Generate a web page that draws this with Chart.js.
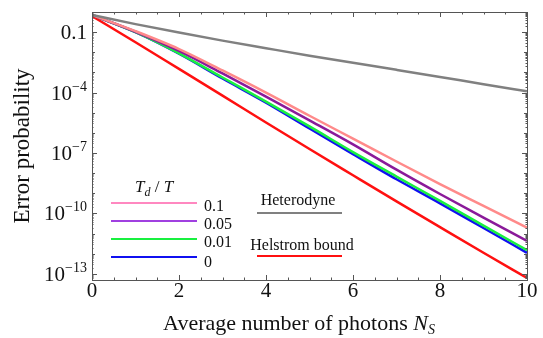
<!DOCTYPE html>
<html>
<head>
<meta charset="utf-8">
<script src="https://cdn.jsdelivr.net/npm/chart.js@4.4.0/dist/chart.umd.min.js"></script>
<style>
  html, body { margin: 0; padding: 0; background: #fff; }
  #wrap { width: 543px; height: 338px; }
</style>
</head>
<body>
<div id="wrap"><canvas id="myChart" width="543" height="338"></canvas></div>
<script>
// average photon number N_S
const photons = [0, 1, 2, 3, 4, 5, 6, 7, 8, 9, 10];
// error probability
const heterodyne = [0.71, 0.25, 0.095, 0.038, 0.016, 6.8e-3, 3.0e-3, 1.35e-3, 6.0e-4, 2.6e-4, 1.17e-4];
const td01  = [0.71, 0.112, 0.0145, 1.26e-3, 1.0e-4, 7.1e-6, 5.2e-7, 3.8e-8, 2.9e-9, 2.4e-10, 2.0e-11];
const td005 = [0.71, 0.105, 0.0117, 8.9e-4, 6.3e-5, 4.2e-6, 2.7e-7, 1.5e-8, 9.3e-10, 6.3e-11, 4.4e-12];
const td001 = [0.71, 0.1, 8.9e-3, 5.6e-4, 3.6e-5, 2.1e-6, 1.12e-7, 6.8e-9, 4.2e-10, 2.5e-11, 1.5e-12];
const td0   = [0.71, 0.1, 8.5e-3, 5.0e-4, 3.2e-5, 1.66e-6, 8.9e-8, 5.0e-9, 3.2e-10, 1.9e-11, 1.12e-12];
const helstrom = [0.63, 0.0316, 1.5e-3, 7.1e-5, 3.3e-6, 1.58e-7, 7.9e-9, 4.0e-10, 2.1e-11, 1.12e-12, 6.3e-14];

const xTicks = [0, 2, 4, 6, 8, 10];
const yTicks = [1e-1, 1e-4, 1e-7, 1e-10, 1e-13];
const yTickExp = [null, '\u22124', '\u22127', '\u221210', '\u221213'];

const legendLabels = ['0.1', '0.05', '0.01', '0'];
const colPink = '#ff8a8a', colPurple = '#8a1a9a', colGreen = '#19f040', colBlue = '#1010f0';
const colRed = '#ff1010', colGray = '#808080';

const serif = '"Liberation Serif", "DejaVu Serif", serif';

function drawPow(ctx, base, exp, rightX, y) {
  ctx.font = '21px ' + serif;
  let wb = ctx.measureText(base).width;
  ctx.font = '14px ' + serif;
  let we = ctx.measureText(exp).width;
  let x0 = rightX - wb - we;
  ctx.font = '21px ' + serif;
  ctx.textAlign = 'left';
  ctx.fillText(base, x0, y);
  ctx.font = '14px ' + serif;
  ctx.fillText(exp, x0 + wb, y - 9);
}

const framePlugin = {
  id: 'frame',
  afterDraw(chart) {
    const ctx = chart.ctx;
    const a = chart.chartArea;
    const xs = chart.scales.x, ys = chart.scales.y;
    ctx.save();
    ctx.strokeStyle = '#555';
    ctx.lineWidth = 1;
    ctx.strokeRect(a.left + 0.5, a.top + 0.5, a.right - a.left, a.bottom - a.top);

    // x ticks, inward on bottom and top
    ctx.beginPath();
    for (let v = 0; v <= 10.001; v += 0.5) {
      let px = Math.round(xs.getPixelForValue(v)) + 0.5;
      let len = (Math.abs(v / 2 - Math.round(v / 2)) < 1e-6) ? 5 : 2.5;
      ctx.moveTo(px, a.bottom); ctx.lineTo(px, a.bottom - len);
      ctx.moveTo(px, a.top); ctx.lineTo(px, a.top + len);
    }
    // y ticks, inward on left and right
    for (let k = -14; k <= 0; k++) {
      for (let m = 1; m <= 9; m++) {
        let v = m * Math.pow(10, k);
        if (v < ys.min || v > ys.max) continue;
        let py = Math.round(ys.getPixelForValue(v)) + 0.5;
        let len = 1.5;
        if (m === 1) len = ((k + 13) % 3 === 0) ? 5 : 3;
        ctx.moveTo(a.left, py); ctx.lineTo(a.left + len, py);
        ctx.moveTo(a.right, py); ctx.lineTo(a.right - len, py);
      }
    }
    ctx.stroke();

    ctx.fillStyle = '#111';
    ctx.textBaseline = 'alphabetic';
    // x tick labels
    ctx.font = '21px ' + serif;
    ctx.textAlign = 'center';
    xTicks.forEach(v => ctx.fillText(String(v), xs.getPixelForValue(v), 297));
    // y tick labels
    yTicks.forEach((v, i) => {
      let py = ys.getPixelForValue(v) + 7;
      if (yTickExp[i] === null) {
        ctx.font = '21px ' + serif;
        ctx.textAlign = 'right';
        ctx.fillText('0.1', 87, py);
      } else {
        drawPow(ctx, '10', yTickExp[i], 87, py);
      }
    });

    // x title
    ctx.font = '22px ' + serif;
    let t1 = 'Average number of photons ';
    let w1 = ctx.measureText(t1).width;
    ctx.font = 'italic 22px ' + serif;
    let w2 = ctx.measureText('N').width;
    ctx.font = 'italic 14px ' + serif;
    let w3 = ctx.measureText('S').width;
    let x0 = 299 - (w1 + w2 + w3) / 2;
    ctx.textAlign = 'left';
    ctx.font = '22px ' + serif;
    ctx.fillText(t1, x0, 330);
    ctx.font = 'italic 22px ' + serif;
    ctx.fillText('N', x0 + w1, 330);
    ctx.font = 'italic 14px ' + serif;
    ctx.fillText('S', x0 + w1 + w2, 334);

    // y title
    ctx.save();
    ctx.translate(29, (a.top + a.bottom) / 2);
    ctx.rotate(-Math.PI / 2);
    ctx.font = '23px ' + serif;
    ctx.textAlign = 'center';
    ctx.fillText('Error probability', 0, 0);
    ctx.restore();

    // legend title T_d / T
    ctx.textAlign = 'left';
    ctx.font = 'italic 17px ' + serif;
    let lx = 135;
    ctx.fillText('T', lx, 192);
    let wt = ctx.measureText('T').width;
    ctx.font = 'italic 12px ' + serif;
    ctx.fillText('d', lx + wt, 196);
    let wd = ctx.measureText('d').width;
    ctx.font = '17px ' + serif;
    ctx.fillText(' / ', lx + wt + wd, 192);
    let ws = ctx.measureText(' / ').width;
    ctx.font = 'italic 17px ' + serif;
    ctx.fillText('T', lx + wt + wd + ws, 192);

    // legend entries
    const legCols = ['#ff88c0', '#a040e0', '#19f040', '#1010f0'];
    const legY = [203, 221, 239, 257];
    ctx.lineWidth = 2;
    legendLabels.forEach((lab, i) => {
      ctx.strokeStyle = legCols[i];
      ctx.beginPath();
      ctx.moveTo(111, legY[i]); ctx.lineTo(197, legY[i]);
      ctx.stroke();
      ctx.font = '16px ' + serif;
      ctx.fillText(lab, 204, legY[i] + (i === 3 ? 10 : 8));
    });

    ctx.font = '16px ' + serif;
    ctx.textAlign = 'center';
    ctx.fillText('Heterodyne', 298, 205);
    ctx.fillText('Helstrom bound', 302, 250);
    ctx.strokeStyle = colGray;
    ctx.beginPath(); ctx.moveTo(257, 213); ctx.lineTo(342, 213); ctx.stroke();
    ctx.strokeStyle = colRed;
    ctx.beginPath(); ctx.moveTo(257, 256); ctx.lineTo(342, 256); ctx.stroke();
    ctx.restore();
  }
};

function ds(label, data, color) {
  return { label: label, data: data, borderColor: color, backgroundColor: color,
           borderWidth: 2.5, pointRadius: 0, fill: false, cubicInterpolationMode: 'monotone' };
}

let mychart = document.getElementById('myChart').getContext('2d');
let chart = new Chart(mychart, {
  type: 'line',
  data: {
    labels: photons,
    datasets: [
      ds('Heterodyne', heterodyne, colGray),
      ds('0.1', td01, colPink),
      ds('0.05', td005, colPurple),
      ds('0.01', td001, colGreen),
      ds('0', td0, colBlue),
      ds('Helstrom bound', helstrom, colRed)
    ]
  },
  options: {
    responsive: false,
    animation: false,
    layout: { padding: { left: 92, right: 16, top: 12, bottom: 58 } },
    plugins: { legend: { display: false }, tooltip: { enabled: false } },
    scales: {
      x: { type: 'linear', min: 0, max: 10, display: false },
      y: { type: 'logarithmic', min: 5e-14, max: 1, display: false }
    }
  },
  plugins: [framePlugin]
});
</script>
</body>
</html>
